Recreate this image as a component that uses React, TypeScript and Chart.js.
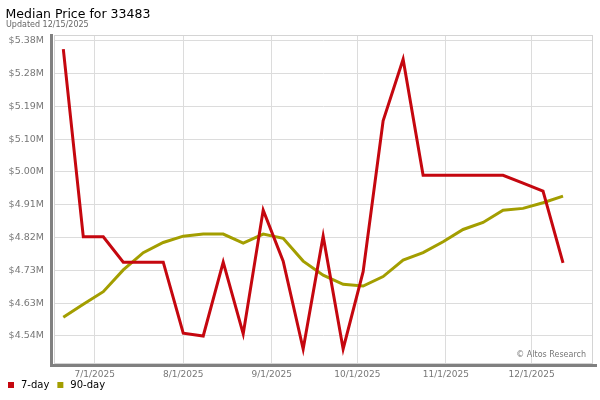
import React, { useEffect, useRef } from 'react';
import { Chart, registerables } from 'chart.js';

Chart.register(...registerables);

const TITLE = 'Median Price for 33483';
const SUBTITLE = 'Updated 12/15/2025';
const CREDIT = '© Altos Research';

const WEEK_DATES = [
  '2025-06-20', '2025-06-27', '2025-07-04', '2025-07-11', '2025-07-18', '2025-07-25',
  '2025-08-01', '2025-08-08', '2025-08-15', '2025-08-22', '2025-08-29', '2025-09-05',
  '2025-09-12', '2025-09-19', '2025-09-26', '2025-10-03', '2025-10-10', '2025-10-17',
  '2025-10-24', '2025-10-31', '2025-11-07', '2025-11-14', '2025-11-21', '2025-11-28',
  '2025-12-05', '2025-12-12',
];

const SEVEN_DAY = [
  5356000, 4822000, 4822000, 4750000, 4750000, 4750000,
  4548000, 4540000, 4750000, 4546000, 4898000, 4753000,
  4503000, 4824000, 4503000, 4723000, 5152000, 5327000,
  4997000, 4997000, 4997000, 4997000, 4997000, 4975000,
  4952000, 4748000,
];

const NINETY_DAY = [
  4593000, 4630000, 4666000, 4728000, 4777000, 4806000,
  4824000, 4830000, 4830000, 4804000, 4830000, 4818000,
  4753000, 4713000, 4687000, 4682000, 4709000, 4756000,
  4777000, 4808000, 4843000, 4863000, 4898000, 4903000,
  4919000, 4938000,
];

const SERIES_NAMES = ['7-day', '90-day'];
const SERIES_COLORS = ['#c5070f', '#a39e00'];

const X_TICK_DATES = ['2025-07-01', '2025-08-01', '2025-09-01', '2025-10-01', '2025-11-01', '2025-12-01'];
const X_TICK_LABELS = ['7/1/2025', '8/1/2025', '9/1/2025', '10/1/2025', '11/1/2025', '12/1/2025'];

const Y_TICK_LABELS = ['$4.54M', '$4.63M', '$4.73M', '$4.82M', '$4.91M', '$5.00M', '$5.10M', '$5.19M', '$5.28M', '$5.38M'];
const Y_TICK_FIRST = 4540000;
const Y_TICK_LAST = 5380000;
const Y_MIN = 4460300;
const Y_MAX = 5396200;

const DAY = 86400000;
const toMs = (s: string) => {
  const [y, m, d] = s.split('-').map(Number);
  return Date.UTC(y, m - 1, d);
};
const X_MIN = toMs(WEEK_DATES[0]) - 3.26 * DAY;
const X_MAX = toMs(WEEK_DATES[WEEK_DATES.length - 1]) + 10.5 * DAY;

const FONT = "'DejaVu Sans', sans-serif";
const GRID = '#dcdcdc';
const TICK_COLOR = '#777777';

const framePlugin = {
  id: 'altosFrame',
  afterLayout(chart: any) {
    // let the date labels extend below the (thin) x-axis box without being clipped
    const s = chart.scales.x;
    if (s) s.bottom = chart.height;
  },
  beforeDatasetsDraw(chart: any) {
    const { ctx, chartArea: a } = chart;
    ctx.save();
    ctx.strokeStyle = '#d4d4d4';
    ctx.lineWidth = 1;
    ctx.strokeRect(a.left + 0.5, a.top + 0.5, a.right - a.left - 1, a.bottom - a.top - 1);
    ctx.fillStyle = '#808080';
    ctx.fillRect(a.left - 4, a.top - 1, 3, a.bottom - a.top + 4);
    ctx.fillRect(a.left - 4, a.bottom, a.right - a.left + 8, 3);
    ctx.restore();
  },
  afterDraw(chart: any) {
    const { ctx, chartArea: a } = chart;
    ctx.save();
    ctx.textBaseline = 'alphabetic';
    ctx.textAlign = 'left';
    ctx.fillStyle = '#000000';
    ctx.font = `12.5px ${FONT}`;
    ctx.fillText(TITLE, 5.5, 18.4);
    ctx.fillStyle = '#666666';
    ctx.font = `8px ${FONT}`;
    ctx.fillText(SUBTITLE, 6, 26.7);
    ctx.textAlign = 'right';
    ctx.fillStyle = '#777777';
    ctx.fillText(CREDIT, a.right - 7, a.bottom - 7);
    ctx.restore();
  },
};

export default function App() {
  const canvasRef = useRef<HTMLCanvasElement>(null);

  useEffect(() => {
    const canvas = canvasRef.current;
    if (!canvas) return;
    Chart.defaults.font.family = FONT;
    const xs = WEEK_DATES.map(toMs);
    const chart = new Chart(canvas, {
      type: 'line',
      data: {
        datasets: [
          {
            label: SERIES_NAMES[0],
            data: xs.map((x, i) => ({ x, y: SEVEN_DAY[i] })),
            borderColor: SERIES_COLORS[0],
            backgroundColor: SERIES_COLORS[0],
            borderWidth: 3,
            pointRadius: 0,
            tension: 0,
            fill: false,
          },
          {
            label: SERIES_NAMES[1],
            data: xs.map((x, i) => ({ x, y: NINETY_DAY[i] })),
            borderColor: SERIES_COLORS[1],
            backgroundColor: SERIES_COLORS[1],
            borderWidth: 3,
            pointRadius: 0,
            tension: 0,
            fill: false,
          },
        ],
      },
      options: {
        animation: false,
        responsive: false,
        devicePixelRatio: 1,
        layout: { padding: { top: 35, right: 7, bottom: 0, left: 0 } },
        plugins: {
          title: { display: false },
          tooltip: { enabled: false },
          legend: {
            position: 'bottom',
            align: 'start',
            labels: {
              usePointStyle: true,
              pointStyle: 'rect',
              boxWidth: 10,
              boxHeight: 6,
              padding: 6,
              color: '#000000',
              font: { size: 10, family: FONT },
              generateLabels: (c: any) =>
                Chart.defaults.plugins.legend.labels
                  .generateLabels(c)
                  .map((l: any) => ({ ...l, lineWidth: 0 })),
            },
          },
        },
        scales: {
          x: {
            type: 'linear',
            min: X_MIN,
            max: X_MAX,
            afterBuildTicks: (s: any) => {
              s.ticks = X_TICK_DATES.map((d) => ({ value: toMs(d) }));
            },
            afterFit: (s: any) => {
              s.height = 10;
            },
            grid: { color: GRID, lineWidth: 1, drawTicks: false },
            border: { display: false },
            ticks: {
              padding: 5,
              color: TICK_COLOR,
              autoSkip: false,
              maxRotation: 0,
              font: { size: 9, family: FONT },
              callback: (_v: any, i: number) => X_TICK_LABELS[i],
            },
          },
          y: {
            type: 'linear',
            min: Y_MIN,
            max: Y_MAX,
            afterBuildTicks: (s: any) => {
              const n = Y_TICK_LABELS.length;
              s.ticks = Y_TICK_LABELS.map((_, i) => ({
                value: Y_TICK_FIRST + (i * (Y_TICK_LAST - Y_TICK_FIRST)) / (n - 1),
              }));
            },
            afterFit: (s: any) => {
              s.width = 54;
            },
            grid: { color: GRID, lineWidth: 1, drawTicks: false },
            border: { display: false },
            ticks: {
              padding: 10,
              color: TICK_COLOR,
              autoSkip: false,
              font: { size: 9.5, family: FONT },
              callback: (_v: any, i: number) => Y_TICK_LABELS[i],
            },
          },
        },
      },
      plugins: [framePlugin],
    } as any);
    return () => chart.destroy();
  }, []);

  return (
    <div style={{ position: 'absolute', left: 0, top: 0, width: 600, height: 400, background: '#ffffff' }}>
      <canvas ref={canvasRef} width={600} height={400} style={{ display: 'block', width: 600, height: 400 }} />
    </div>
  );
}
